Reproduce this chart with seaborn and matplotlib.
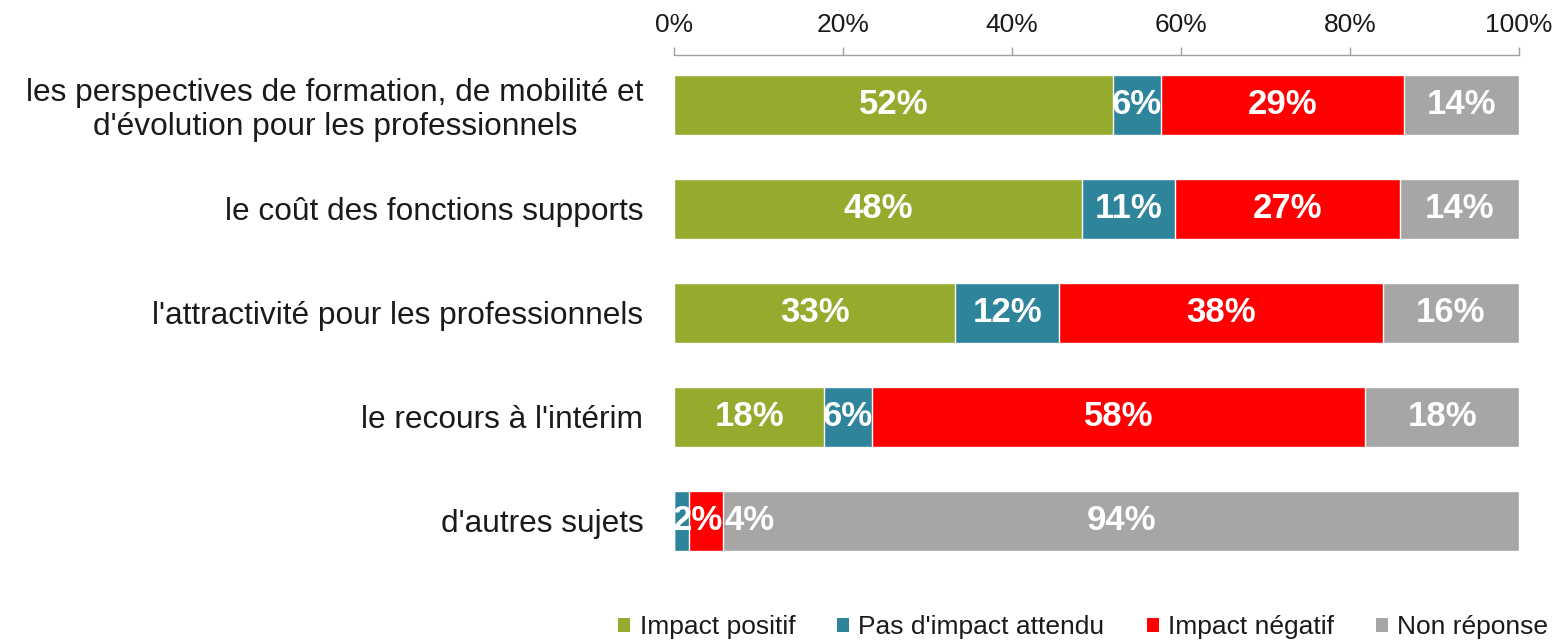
import numpy as np
import pandas as pd
import matplotlib
matplotlib.use("Agg")
import matplotlib.pyplot as plt
import seaborn as sns
from matplotlib.ticker import PercentFormatter
from matplotlib.patches import Patch

categories = [
    "les perspectives de formation, de mobilité et\nd'évolution pour les professionnels",
    "le coût des fonctions supports",
    "l'attractivité pour les professionnels",
    "le recours à l'intérim",
    "d'autres sujets",
]
series = ["Impact positif", "Pas d'impact attendu", "Impact négatif", "Non réponse"]
impact_positif = [52.0, 48.3, 33.3, 17.8, 0.0]
pas_impact = [5.6, 11.0, 12.3, 5.6, 1.8]
impact_negatif = [28.8, 26.6, 38.3, 58.4, 4.0]
non_reponse = [13.6, 14.1, 16.1, 18.2, 94.2]
colors = ["#95AB2E", "#2E849A", "#FF0000", "#A6A6A6"]
ticks = [0, 20, 40, 60, 80, 100]

sns.set_theme(style="white")
plt.rcParams["font.family"] = ["Liberation Sans", "DejaVu Sans"]

values = np.array([impact_positif, pas_impact, impact_negatif, non_reponse])
cum = np.cumsum(values, axis=0)

fig = plt.figure(figsize=(15.61, 6.4), dpi=100)
ax = fig.add_axes([0.4318, 0.1016, 0.5413, 0.8125])

# stacked bars: draw cumulative totals from the outermost segment inward
for i in reversed(range(len(series))):
    df = pd.DataFrame({"cat": categories, "val": cum[i]})
    sns.barplot(data=df, y="cat", x="val", orient="h", color=colors[i],
                saturation=1, width=0.58, ax=ax, order=categories)

# value labels (tiny neighbouring segments get their labels pushed apart)
for j in range(len(categories)):
    for i in range(len(series)):
        v = values[i, j]
        if v < 0.5:
            continue
        start = cum[i, j] - v
        x = start + v / 2
        ha = "center"
        if v < 5 and i == 1 and values[i + 1, j] < 5:
            x, ha = cum[i + 1, j], "right"
        elif v < 5 and i == 2 and values[i - 1, j] < 5:
            x, ha = cum[i, j] + 0.2, "left"
        ax.text(x, j, f"{v:.0f}%", ha=ha, va="center", color="white",
                fontsize=25, fontweight="bold")

ax.set_xlim(0, 100)
ax.set_ylim(4.52, -0.48)
ax.set_xlabel("")
ax.set_ylabel("")
ax.xaxis.tick_top()
ax.set_xticks(ticks)
ax.xaxis.set_major_formatter(PercentFormatter(decimals=0))
ax.tick_params(axis="x", direction="out", length=6, width=1, color="#A0A0A0",
               labelsize=19, pad=7, labelcolor="#1a1a1a")
ax.tick_params(axis="y", length=0, labelsize=22.8, pad=22, labelcolor="#1a1a1a")
for lbl in ax.get_yticklabels():
    lbl.set_multialignment("center")
    lbl.set_linespacing(1.15)
for side in ["right", "bottom", "left"]:
    ax.spines[side].set_visible(False)
ax.spines["top"].set_color("#A0A0A0")
ax.spines["top"].set_linewidth(1)

handles = [Patch(facecolor=c, edgecolor="none") for c in colors]
fig.legend(handles, series, loc="center", bbox_to_anchor=(0.694, 0.02),
           ncol=4, frameon=False, fontsize=19, handlelength=0.45,
           handleheight=0.45, handletextpad=0.35, columnspacing=1.6,
           labelcolor="#1a1a1a")

fig.savefig("out.png", dpi=100)
